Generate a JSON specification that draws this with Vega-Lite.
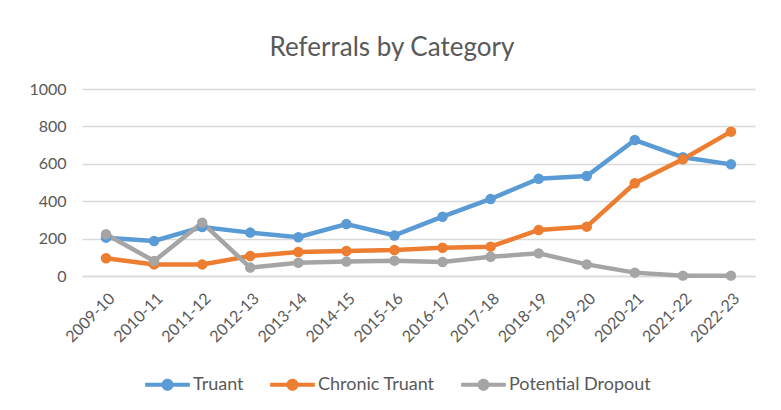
{
  "$schema": "https://vega.github.io/schema/vega-lite/v6.json",
  "width": 673,
  "height": 187,
  "autosize": {"type": "none"},
  "padding": {"left": 82, "top": 89, "right": 26, "bottom": 134},
  "background": "white",
  "title": {
    "text": "Referrals by Category",
    "font": "Lato",
    "fontSize": 26,
    "fontWeight": "normal",
    "color": "#595959",
    "anchor": "middle",
    "frame": "bounds",
    "offset": 20
  },
  "data": {
    "values": [
      {"year": "2009-10", "category": "Truant", "value": 205},
      {"year": "2010-11", "category": "Truant", "value": 187},
      {"year": "2011-12", "category": "Truant", "value": 262},
      {"year": "2012-13", "category": "Truant", "value": 232},
      {"year": "2013-14", "category": "Truant", "value": 207},
      {"year": "2014-15", "category": "Truant", "value": 278},
      {"year": "2015-16", "category": "Truant", "value": 217},
      {"year": "2016-17", "category": "Truant", "value": 317},
      {"year": "2017-18", "category": "Truant", "value": 412},
      {"year": "2018-19", "category": "Truant", "value": 520},
      {"year": "2019-20", "category": "Truant", "value": 535},
      {"year": "2020-21", "category": "Truant", "value": 727},
      {"year": "2021-22", "category": "Truant", "value": 635},
      {"year": "2022-23", "category": "Truant", "value": 597},
      {"year": "2009-10", "category": "Chronic Truant", "value": 95},
      {"year": "2010-11", "category": "Chronic Truant", "value": 62},
      {"year": "2011-12", "category": "Chronic Truant", "value": 62},
      {"year": "2012-13", "category": "Chronic Truant", "value": 107},
      {"year": "2013-14", "category": "Chronic Truant", "value": 128},
      {"year": "2014-15", "category": "Chronic Truant", "value": 134},
      {"year": "2015-16", "category": "Chronic Truant", "value": 139},
      {"year": "2016-17", "category": "Chronic Truant", "value": 151},
      {"year": "2017-18", "category": "Chronic Truant", "value": 157},
      {"year": "2018-19", "category": "Chronic Truant", "value": 246},
      {"year": "2019-20", "category": "Chronic Truant", "value": 264},
      {"year": "2020-21", "category": "Chronic Truant", "value": 496},
      {"year": "2021-22", "category": "Chronic Truant", "value": 624},
      {"year": "2022-23", "category": "Chronic Truant", "value": 772},
      {"year": "2009-10", "category": "Potential Dropout", "value": 223},
      {"year": "2010-11", "category": "Potential Dropout", "value": 80},
      {"year": "2011-12", "category": "Potential Dropout", "value": 285},
      {"year": "2012-13", "category": "Potential Dropout", "value": 45},
      {"year": "2013-14", "category": "Potential Dropout", "value": 71},
      {"year": "2014-15", "category": "Potential Dropout", "value": 77},
      {"year": "2015-16", "category": "Potential Dropout", "value": 82},
      {"year": "2016-17", "category": "Potential Dropout", "value": 75},
      {"year": "2017-18", "category": "Potential Dropout", "value": 103},
      {"year": "2018-19", "category": "Potential Dropout", "value": 121},
      {"year": "2019-20", "category": "Potential Dropout", "value": 62},
      {"year": "2020-21", "category": "Potential Dropout", "value": 18},
      {"year": "2021-22", "category": "Potential Dropout", "value": 2},
      {"year": "2022-23", "category": "Potential Dropout", "value": 2}
    ]
  },
  "mark": {
    "type": "line",
    "strokeWidth": 4.5,
    "point": {"filled": true, "size": 110, "opacity": 1}
  },
  "encoding": {
    "x": {
      "field": "year",
      "type": "ordinal",
      "sort": null,
      "scale": {"type": "point", "padding": 0.5},
      "axis": {
        "title": null,
        "labelAngle": -45,
        "labelFont": "Lato",
        "labelFontSize": 16,
        "labelColor": "#595959",
        "ticks": false,
        "grid": false,
        "domainColor": "#d9d9d9",
        "domainWidth": 1.3,
        "labelPadding": 14
      }
    },
    "y": {
      "field": "value",
      "type": "quantitative",
      "scale": {"domain": [0, 1000], "nice": false},
      "axis": {
        "title": null,
        "values": [0, 200, 400, 600, 800, 1000],
        "format": "d",
        "labelFont": "Lato",
        "labelFontSize": 16,
        "labelColor": "#595959",
        "ticks": false,
        "domain": false,
        "gridColor": "#d9d9d9",
        "gridWidth": 1.3,
        "labelPadding": 16
      }
    },
    "color": {
      "field": "category",
      "type": "nominal",
      "sort": ["Truant", "Chronic Truant", "Potential Dropout"],
      "scale": {
        "domain": ["Truant", "Chronic Truant", "Potential Dropout"],
        "range": ["#5B9BD5", "#ED7D31", "#A5A5A5"]
      },
      "legend": {
        "title": null,
        "orient": "none",
        "legendX": 63,
        "legendY": 273,
        "direction": "horizontal",
        "labelFont": "Lato",
        "labelFontSize": 18,
        "labelColor": "#595959",
        "labelOffset": 3,
        "columnPadding": 26,
        "symbolType": "M-1,-0.09H1V0.09H-1Z M0.27,0A0.27,0.27,0,1,1,-0.27,0A0.27,0.27,0,1,1,0.27,0Z",
        "symbolSize": 2000,
        "symbolStrokeWidth": 0,
        "encode": {
          "symbols": {
            "update": {
              "fill": {"scale": "color", "field": "value"},
              "strokeWidth": {"value": 0},
              "opacity": {"value": 1}
            }
          }
        }
      }
    }
  },
  "config": {
    "view": {"stroke": null}
  }
}
